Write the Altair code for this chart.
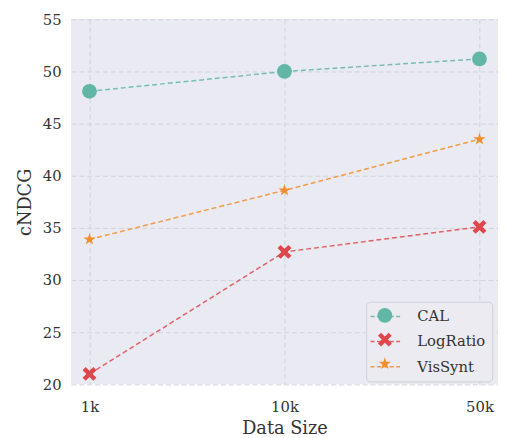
import altair as alt
import pandas as pd

sizes = ["1k", "10k", "50k"]
methods = ["CAL", "LogRatio", "VisSynt"]
cal = [48.1, 50.0, 51.2]
logratio = [21.0, 32.7, 35.1]
vissynt = [33.9, 38.6, 43.5]
colors = ["#62b6a5", "#e0474c", "#f28e2b"]

rows = []
for m, vals in zip(methods, [cal, logratio, vissynt]):
    for s, v in zip(sizes, vals):
        rows.append({"size": s, "method": m, "method2": m, "value": v})
df = pd.DataFrame(rows)

xpath = "M-1,-0.55L-0.55,-1L0,-0.45L0.55,-1L1,-0.55L0.45,0L1,0.55L0.55,1L0,0.45L-0.55,1L-1,0.55L-0.45,0Z"
starpath = ("M0,-1L0.2245,-0.309L0.951,-0.309L0.3633,0.118L0.5878,0.809L0,0.382"
            "L-0.5878,0.809L-0.3633,0.118L-0.951,-0.309L-0.2245,-0.309Z")
linepath = "M-1.4,0H2.6"
font = "DejaVu Serif"

x = alt.X("size:N", sort=sizes, title="Data Size",
          scale=alt.Scale(type="point", padding=0.095),
          axis=alt.Axis(labelAngle=0, labelPadding=16, titlePadding=5))
y = alt.Y("value:Q", title="cNDCG",
          scale=alt.Scale(domain=[20, 55], nice=False, zero=False),
          axis=alt.Axis(values=[20, 25, 30, 35, 40, 45, 50, 55], labelPadding=10, titlePadding=8))

lines = alt.Chart(df).mark_line(strokeDash=[5, 3], strokeWidth=1.5, opacity=0.85).encode(
    x=x, y=y,
    stroke=alt.Stroke("method:N", title=None,
                      scale=alt.Scale(range=colors),
                      legend=alt.Legend(orient="none", legendX=300, legendY=287,
                                        symbolType=linepath, symbolSize=225,
                                        symbolDash=[4, 2.5], symbolStrokeWidth=1.5,
                                        padding=6.5, rowPadding=8.5, labelOffset=28.5,
                                        labelFontSize=15, labelFont=font, labelColor="#333",
                                        fillColor="#ecebf2", strokeColor="#cfcfd6",
                                        cornerRadius=4)),
)

points = alt.Chart(df).mark_point(filled=True, opacity=1, strokeWidth=0).encode(
    x=x, y=y,
    fill=alt.Fill("method2:N", title=None,
                  scale=alt.Scale(domain=methods, range=colors),
                  legend=alt.Legend(orient="none", legendX=305, legendY=287,
                                    padding=6.5, rowPadding=8.5, labelOffset=14,
                                    labelFontSize=15, labelFont=font, labelExpr="''",
                                    symbolStrokeWidth=0, symbolOpacity=1)),
    shape=alt.Shape("method2:N", title=None,
                    scale=alt.Scale(domain=methods, range=["circle", xpath, starpath])),
    size=alt.Size("method2:N", title=None,
                  scale=alt.Scale(domain=methods, range=[225, 170, 225])),
)

chart = alt.layer(lines, points).properties(
    width=434, height=371,
    autosize=alt.AutoSizeParams(type="none"),
    padding={"left": 64, "top": 8, "right": 0, "bottom": 51},
    background="white",
).configure_view(
    fill="#eaeaf2", stroke=None
).configure_axis(
    grid=True, gridColor="#d2d2dc", gridDash=[5, 3], gridWidth=1,
    domain=False, ticks=False,
    labelFont=font, labelFontSize=15, labelColor="#333",
    titleFont=font, titleFontSize=18, titleColor="#333", titleFontWeight="normal",
)

chart.save("out.html", embed_options={"renderer": "svg", "actions": False})
